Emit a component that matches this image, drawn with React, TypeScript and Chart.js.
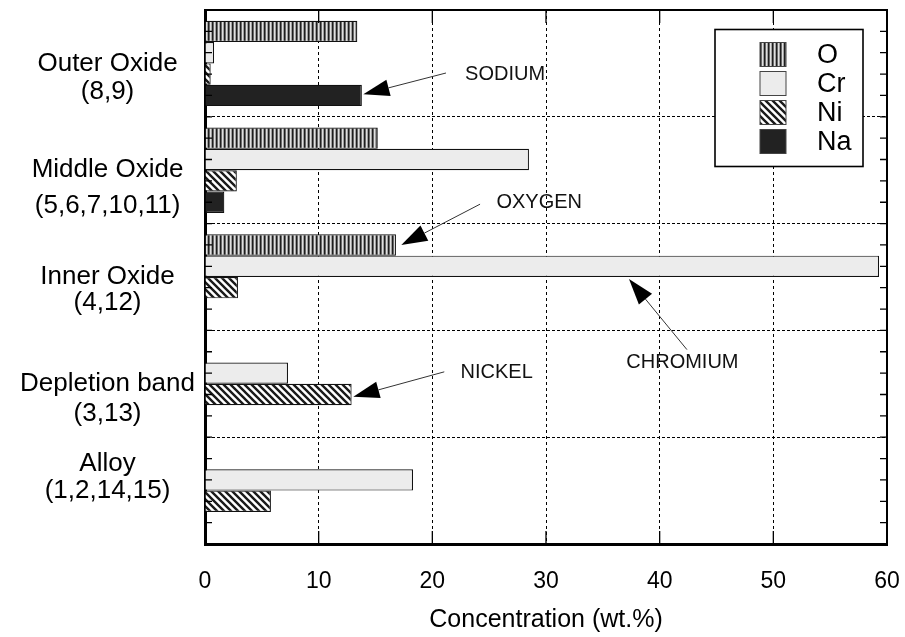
import React, { useEffect, useRef } from 'react';
import { Chart, registerables } from 'chart.js';
Chart.register(...registerables);

// ---- data ----
const categories: string[][] = [
  ['Outer Oxide', '(8,9)'],
  ['Middle Oxide', '(5,6,7,10,11)'],
  ['Inner Oxide', '(4,12)'],
  ['Depletion band', '(3,13)'],
  ['Alloy', '(1,2,14,15)'],
];
const seriesNames = ['O', 'Cr', 'Ni', 'Na'];
const oxygen = [13.4, 15.2, 16.8, null, null];
const chromium = [0.8, 28.5, 59.3, 7.3, 18.3];
const nickel = [0.5, 2.8, 2.9, 12.9, 5.8];
const sodium = [13.8, 1.7, null, null, null];
const xTicks = [0, 10, 20, 30, 40, 50, 60];
const xTitle = 'Concentration (wt.%)';

// label layout (which side the blank line goes, and line height)
const labelShift = [1, 1, 1, 1, -1];
const labelLineHeight = [28, 36, 26, 30, 27];

// annotations: text position, line start, arrow tip (data units: x value, y category index)
const annotations = [
  { text: 'SODIUM', tx: 26.4, ty: 0.107, fx: 21.2, fy: 0.09, hx: 13.93, hy: 0.29 },
  { text: 'OXYGEN', tx: 29.4, ty: 1.299, fx: 24.2, fy: 1.318, hx: 17.27, hy: 1.701 },
  { text: 'NICKEL', tx: 25.66, ty: 2.897, fx: 21.05, fy: 2.888, hx: 13.05, hy: 3.121 },
  { text: 'CHROMIUM', tx: 42.0, ty: 2.80, fx: 42.4, fy: 2.68, hx: 37.3, hy: 2.019 },
];

const FONT = "'Liberation Sans', Arial, Helvetica, sans-serif";

function makeVertical(): CanvasPattern {
  const c = document.createElement('canvas');
  c.width = 4; c.height = 4;
  const g = c.getContext('2d')!;
  const cols = ['#1e1e1e', '#6a6a6a', '#e0e0e0', '#a0a0a0'];
  cols.forEach((col, i) => { g.fillStyle = col; g.fillRect(i, 0, 1, 4); });
  return g.createPattern(c, 'repeat')!;
}
function makeDiagonal(): CanvasPattern {
  const s = 7;
  const c = document.createElement('canvas');
  c.width = s; c.height = s;
  const g = c.getContext('2d')!;
  g.fillStyle = '#ffffff'; g.fillRect(0, 0, s, s);
  g.strokeStyle = '#1a1a1a'; g.lineWidth = 2.4;
  g.beginPath();
  g.moveTo(-2, -2); g.lineTo(s + 2, s + 2);
  g.moveTo(-2, s - 2); g.lineTo(2, s + 2);
  g.moveTo(s - 2, -2); g.lineTo(s + 2, 2);
  g.stroke();
  return g.createPattern(c, 'repeat')!;
}

const framePlugin = {
  id: 'frame',
  afterDatasetsDraw(chart: any) {
    const { ctx, chartArea: a } = chart;
    const xs = chart.scales.x, ys = chart.scales.y;
    ctx.save();
    ctx.strokeStyle = '#000';
    ctx.lineWidth = 2;
    ctx.beginPath();
    ctx.moveTo(a.left, a.top); ctx.lineTo(a.right, a.top); ctx.lineTo(a.right, a.bottom);
    ctx.stroke();
    ctx.lineWidth = 1.3;
    ctx.beginPath();
    xTicks.forEach((v) => {
      if (v === xTicks[0] || v === xTicks[xTicks.length - 1]) return;
      const px = xs.getPixelForValue(v);
      ctx.moveTo(px, a.bottom); ctx.lineTo(px, a.bottom - 13);
      ctx.moveTo(px, a.top); ctx.lineTo(px, a.top + 13);
    });
    for (let i = 0; i < categories.length; i++) {
      for (let k = 0; k < 5; k++) {
        if (i === 0 && k === 0) continue;
        const py = ys.getPixelForValue(i - 0.5 + k / 5);
        ctx.moveTo(a.left, py); ctx.lineTo(a.left + 7, py);
        ctx.moveTo(a.right, py); ctx.lineTo(a.right - 7, py);
      }
    }
    ctx.stroke();
    // annotations
    annotations.forEach((an) => {
      const tx = xs.getPixelForValue(an.tx), ty = ys.getPixelForValue(an.ty);
      const fx = xs.getPixelForValue(an.fx), fy = ys.getPixelForValue(an.fy);
      const hx = xs.getPixelForValue(an.hx), hy = ys.getPixelForValue(an.hy);
      const ang = Math.atan2(hy - fy, hx - fx);
      const L = 26, W = 8.5;
      const bx = hx - L * Math.cos(ang), by = hy - L * Math.sin(ang);
      ctx.strokeStyle = '#333'; ctx.lineWidth = 1;
      ctx.beginPath(); ctx.moveTo(fx, fy); ctx.lineTo(bx, by); ctx.stroke();
      ctx.fillStyle = '#000';
      ctx.beginPath();
      ctx.moveTo(hx, hy);
      ctx.lineTo(bx + W * Math.sin(ang), by - W * Math.cos(ang));
      ctx.lineTo(bx - W * Math.sin(ang), by + W * Math.cos(ang));
      ctx.closePath(); ctx.fill();
      ctx.font = `20px ${FONT}`;
      ctx.fillStyle = '#111';
      ctx.textAlign = 'center'; ctx.textBaseline = 'middle';
      ctx.fillText(an.text, tx, ty);
    });
    ctx.restore();
  },
  afterDraw(chart: any) {
    const { ctx, chartArea: a } = chart;
    const bw = 148, bh = 137;
    const bl = a.right - 24 - bw, bt = a.top + 19.5;
    ctx.save();
    ctx.fillStyle = '#fff';
    ctx.fillRect(bl, bt, bw, bh);
    ctx.strokeStyle = '#000'; ctx.lineWidth = 1.6;
    ctx.strokeRect(bl, bt, bw, bh);
    chart.data.datasets.forEach((ds: any, j: number) => {
      const sx = bl + 45, sy = bt + 13 + j * 29;
      ctx.fillStyle = ds.backgroundColor;
      ctx.fillRect(sx, sy, 26, 24);
      ctx.strokeStyle = '#444'; ctx.lineWidth = 1;
      ctx.strokeRect(sx, sy, 26, 24);
      ctx.fillStyle = '#000';
      ctx.font = `27px ${FONT}`;
      ctx.textAlign = 'left'; ctx.textBaseline = 'middle';
      ctx.fillText(ds.label, bl + 102, sy + 13);
    });
    ctx.restore();
  },
};

export default function App() {
  const ref = useRef<HTMLCanvasElement>(null);
  useEffect(() => {
    const canvas = ref.current!;
    const pO = makeVertical();
    const pNi = makeDiagonal();
    const fills = [pO, '#ececec', pNi, '#222222'];
    const series = [oxygen, chromium, nickel, sodium];
    const chart = new Chart(canvas, {
      type: 'bar',
      data: {
        labels: categories.map((c) => c.join(' ')),
        datasets: series.map((d, j) => ({
          label: seriesNames[j],
          data: d as any,
          backgroundColor: fills[j] as any,
          borderColor: '#111',
          borderWidth: 1.2,
          categoryPercentage: 0.8,
          barPercentage: 1.0,
        })),
      },
      options: {
        indexAxis: 'y',
        animation: false,
        responsive: false,
        layout: { padding: { top: 10, right: 18, left: 0, bottom: 0 } },
        plugins: { legend: { display: false }, tooltip: { enabled: false } },
        scales: {
          x: {
            type: 'linear',
            min: 0,
            max: 60,
            position: 'bottom',
            afterBuildTicks: (s: any) => { s.ticks = xTicks.map((v) => ({ value: v })); },
            afterFit: (s: any) => { s.height = 93; s.paddingLeft = 0; s.paddingRight = 0; },
            ticks: { color: '#000', padding: 24, font: { size: 23, family: FONT }, maxRotation: 0 },
            grid: { color: '#000', lineWidth: 1, drawTicks: false },
            border: { display: true, width: 3, color: '#000', dash: [3, 3] },
            title: {
              display: true, text: xTitle, color: '#000',
              font: { size: 25, family: FONT }, padding: { top: 0, bottom: 2 },
            },
          },
          y: {
            type: 'category',
            offset: true,
            afterFit: (s: any) => { s.width = 205; s.paddingTop = 0; s.paddingBottom = 0; },
            ticks: {
              color: '#000',
              padding: 10,
              crossAlign: 'center',
              autoSkip: false,
              font: (c: any) => ({ size: 26, family: FONT, lineHeight: `${labelLineHeight[c.index] ?? 30}px` }),
              callback: (_v: any, i: number) => {
                const lab = categories[i];
                return labelShift[i] > 0 ? ['', ...lab] : [...lab, ''];
              },
            },
            grid: { color: '#000', lineWidth: 1, offset: true, drawTicks: false },
            border: { display: true, width: 3, color: '#000', dash: [3, 2] },
          },
        },
      },
      plugins: [framePlugin],
    } as any);
    return () => chart.destroy();
  }, []);
  return (
    <canvas
      ref={ref}
      width={905}
      height={637}
      style={{ position: 'absolute', left: 0, top: 0, display: 'block' }}
    />
  );
}
